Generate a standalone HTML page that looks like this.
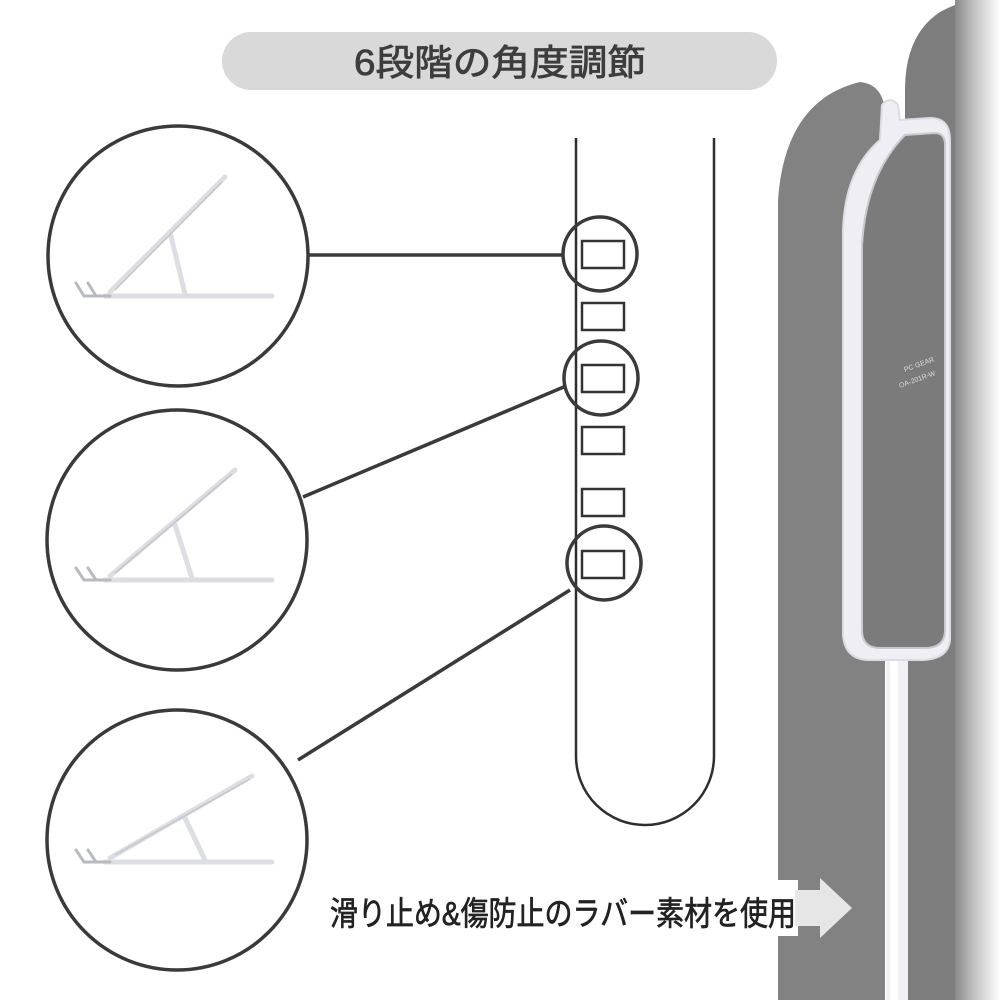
<!DOCTYPE html>
<html><head><meta charset="utf-8"><style>
html,body{margin:0;padding:0;background:#fff;}
svg{display:block}
</style></head><body>
<svg width="1000" height="1000" viewBox="0 0 1000 1000" xmlns="http://www.w3.org/2000/svg">
<defs>
<linearGradient id="sh" x1="0" x2="1" y1="0" y2="0">
<stop offset="0" stop-color="#8a8a8a"/><stop offset="0.4" stop-color="#c0c0c0"/><stop offset="1" stop-color="#ffffff"/>
</linearGradient>
</defs>
<rect x="0" y="0" width="1000" height="1000" fill="#fff"/>
<!-- right panel -->
<path d="M905 1000 L905 90 Q905 35 940 12 Q955 4 965 2 L965 1000 Z" fill="#7d7d7d"/>
<rect x="955" y="0" width="45" height="1000" fill="url(#sh)"/>
<!-- left panel -->
<path d="M778 1000 L778 200 Q785 100 860 82 Q882 84 885 110 L885 1000 Z" fill="#828282"/>
<!-- white separator strip -->
<rect x="886" y="640" width="22" height="360" fill="#f0f0f5"/>
<rect x="890" y="640" width="8" height="360" fill="#ffffff"/>
<!-- frame -->
<path d="M843 230 Q845 170 880 140 L882 105 Q890 95 898 105 L900 120 L930 118 Q950 118 950 140 L950 640 Q948 660 920 660 L870 660 Q845 660 843 635 Z" fill="#eeeef4" stroke="#dcdce6" stroke-width="2"/>
<path d="M862 245 Q866 175 905 135 L935 133 Q945 133 945 145 L945 630 Q945 648 925 648 L880 648 Q862 648 862 630 Z" fill="#7b7b7b" stroke="#c9c9d0" stroke-width="2"/>
<text x="905" y="372" font-family="Liberation Sans, sans-serif" font-size="7" fill="#ddd" transform="rotate(-20 905 372)">PC GEAR</text>
<text x="900" y="388" font-family="Liberation Sans, sans-serif" font-size="7" fill="#ddd" transform="rotate(-20 900 388)">OA-201R-W</text>

<!-- title pill -->
<rect x="222" y="32" width="555" height="58" rx="29" fill="#d9d9d9"/>
<text x="500" y="75" text-anchor="middle" font-family="Liberation Sans, 'Noto Sans CJK JP', sans-serif" font-size="36" fill="#3d3d3d" stroke="#3d3d3d" stroke-width="0.8" textLength="292" lengthAdjust="spacingAndGlyphs">6段階の角度調節</text>

<!-- U shape -->
<path d="M576 138 L576 756 A69 69 0 0 0 714 756 L714 138" fill="none" stroke="#2e2e2e" stroke-width="2.5"/>
<g fill="#fff" stroke="#333" stroke-width="2.5">
<rect x="582" y="241" width="42" height="27"/>
<rect x="582" y="303" width="42" height="27"/>
<rect x="582" y="365" width="42" height="27"/>
<rect x="582" y="427" width="42" height="27"/>
<rect x="582" y="489" width="42" height="27"/>
<rect x="582" y="551" width="42" height="27"/>
</g>
<g fill="none" stroke="#3a3a3a" stroke-width="3.5">
<circle cx="600" cy="254" r="37"/>
<circle cx="601" cy="378" r="37"/>
<circle cx="604" cy="563" r="37"/>
<line x1="308" y1="255" x2="563" y2="255"/>
<line x1="303" y1="497" x2="566" y2="386"/>
<line x1="298" y1="760" x2="570" y2="590"/>
<circle cx="178" cy="256" r="130"/>
<circle cx="177" cy="540" r="130"/>
<circle cx="177" cy="840" r="130"/>
</g>
<!-- stands -->
<g fill="none" stroke="#dcdee3" stroke-linecap="round" stroke-width="5">
<path d="M105 296 L272 296"/>
<path d="M110 292 L225 177"/>
<path d="M170 232 L185 294"/>
<path d="M105 580 L272 580"/>
<path d="M110 576 L235 470"/>
<path d="M175 525 L192 578"/>
<path d="M105 862 L272 862"/>
<path d="M110 858 L252 776"/>
<path d="M185 818 L205 860"/>
</g>
<g fill="none" stroke="#c4c6cc" stroke-width="1.5">
<path d="M115 290 L222 182"/><path d="M115 573 L232 474"/><path d="M115 855 L250 779"/>
</g>
<g fill="none" stroke="#b8bac2" stroke-width="3" stroke-linecap="round">
<path d="M76 283 L84 296 L110 296"/><path d="M88 283 L96 296"/>
<path d="M76 568 L84 580 L110 580"/><path d="M88 568 L96 580"/>
<path d="M76 850 L84 862 L110 862"/><path d="M88 850 L96 862"/>
</g>

<!-- arrow -->
<rect x="320" y="880" width="478" height="56" fill="#fff"/>
<path d="M795 890 L820 890 L820 878 L852 908 L820 938 L820 926 L795 926 Z" fill="#e6e6e6"/>
<text x="330" y="925" font-family="Liberation Sans, 'Noto Sans CJK JP', sans-serif" font-size="33" fill="#222" stroke="#222" stroke-width="0.7" textLength="466" lengthAdjust="spacingAndGlyphs">滑り止め&amp;傷防止のラバー素材を使用</text>
</svg>
</body></html>
